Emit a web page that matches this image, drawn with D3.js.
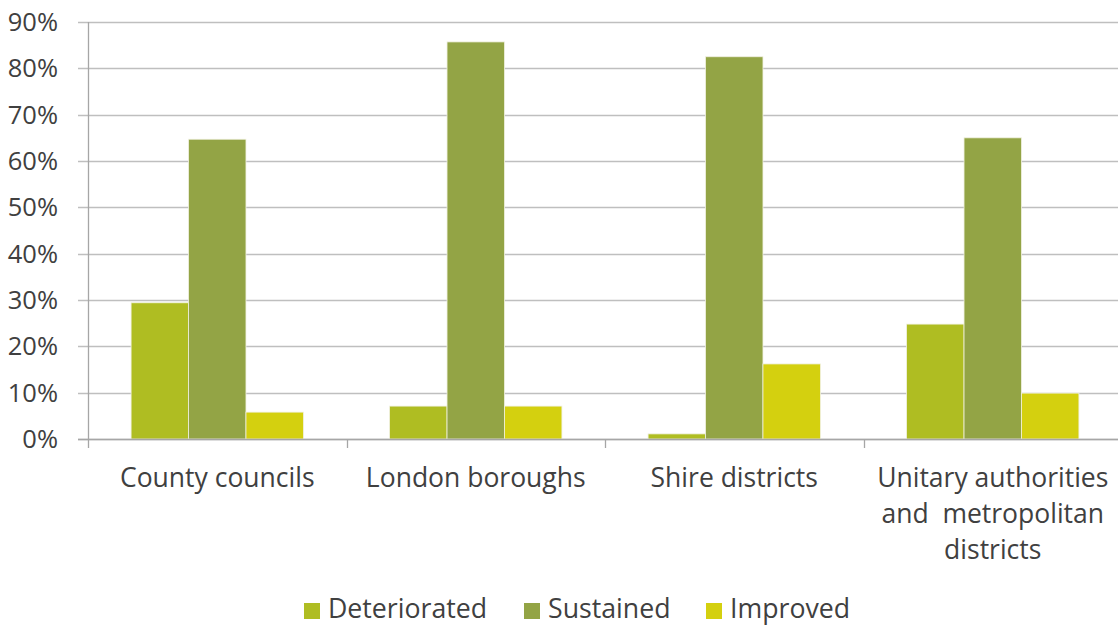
<!DOCTYPE html>
<html><head><meta charset="utf-8">
<script src="https://cdn.jsdelivr.net/npm/d3@7"></script>
<style>
html,body{margin:0;padding:0;background:#fff;}
svg{display:block;font-family:"Open Sans","Noto Sans",sans-serif;}
</style></head>
<body><svg id="chart" width="1118" height="626"></svg>
<script>
const categories = [["County councils"],["London boroughs"],["Shire districts"],["Unitary authorities","and  metropolitan","districts"]];
const categoryKeys = ["County councils","London boroughs","Shire districts","Unitary authorities and metropolitan districts"];
const seriesNames = ["Deteriorated","Sustained","Improved"];
const deteriorated = [29.4, 7.1, 1.1, 24.8];
const sustained = [64.7, 85.7, 82.5, 65.0];
const improved = [5.8, 7.1, 16.2, 9.9];
const yTicks = [0,10,20,30,40,50,60,70,80,90];
const colors = ["#afbd22","#93a445","#d4d00f"];

const seriesValues = [deteriorated, sustained, improved];
const svg = d3.select("#chart");
const textColor = "#404040";

const x0 = d3.scaleBand().domain(categoryKeys).range([88, 1122]).padding(0);
const x1 = d3.scaleBand().domain(seriesNames).range([0, x0.bandwidth()]).paddingInner(0).paddingOuter(0.75);
const y = d3.scaleLinear().domain([0, 90]).range([439, 22]);

// gridlines
svg.append("g").selectAll("line").data(yTicks).join("line")
  .attr("x1", 78).attr("x2", 1118)
  .attr("y1", d => Math.round(y(d)) + 0.5).attr("y2", d => Math.round(y(d)) + 0.5)
  .attr("stroke", "#bfbfbf").attr("stroke-width", 1.3);

// y labels
svg.append("g").selectAll("text").data(yTicks).join("text")
  .attr("x", 58).attr("y", d => y(d)).attr("dy", "0.35em")
  .attr("text-anchor", "end").attr("fill", textColor)
  .style("font-size", "25.5px").text(d => d + "%");

// bars
const groups = svg.append("g").selectAll("g").data(categoryKeys).join("g")
  .attr("transform", d => `translate(${x0(d)},0)`);
groups.selectAll("rect").data((d, i) => seriesNames.map((s, j) => ({s, v: seriesValues[j][i], c: colors[j]})))
  .join("rect")
  .attr("x", d => x1(d.s)).attr("width", x1.bandwidth())
  .attr("y", d => y(d.v)).attr("height", d => y(0) - y(d.v))
  .attr("fill", d => d.c).attr("stroke", "#f0f0e0").attr("stroke-width", 0.8);

// axes lines
svg.append("line").attr("x1", 88.5).attr("x2", 88.5).attr("y1", 22).attr("y2", 448)
  .attr("stroke", "#a6a6a6").attr("stroke-width", 1.3);
svg.append("line").attr("x1", 78).attr("x2", 1118).attr("y1", 439.5).attr("y2", 439.5)
  .attr("stroke", "#a6a6a6").attr("stroke-width", 1.3);
// category ticks
svg.append("g").selectAll("line").data(categoryKeys.slice(1)).join("line")
  .attr("x1", d => Math.round(x0(d)) + 0.5).attr("x2", d => Math.round(x0(d)) + 0.5)
  .attr("y1", 439).attr("y2", 448).attr("stroke", "#a6a6a6").attr("stroke-width", 1.3);

// category labels
const catLab = svg.append("g").selectAll("text").data(categoryKeys).join("text")
  .attr("text-anchor", "middle").attr("fill", textColor)
  .style("font-size", "26.5px").attr("xml:space", "preserve").style("white-space", "pre");
catLab.each(function(d, i) {
  const t = d3.select(this);
  categories[i].forEach((line, k) => {
    t.append("tspan").attr("x", x0(d) + x0.bandwidth() / 2).attr("y", 487 + k * 36).text(line);
  });
});

// legend
const legendX = [304, 524, 706];
const lg = svg.append("g").selectAll("g").data(seriesNames).join("g")
  .attr("transform", (d, i) => `translate(${legendX[i]},0)`);
lg.append("rect").attr("x", 0).attr("y", 603).attr("width", 16).attr("height", 16)
  .attr("fill", (d, i) => colors[i]);
lg.append("text").attr("x", 24).attr("y", 618).attr("fill", textColor)
  .style("font-size", "26.7px").text(d => d);
</script></body></html>
